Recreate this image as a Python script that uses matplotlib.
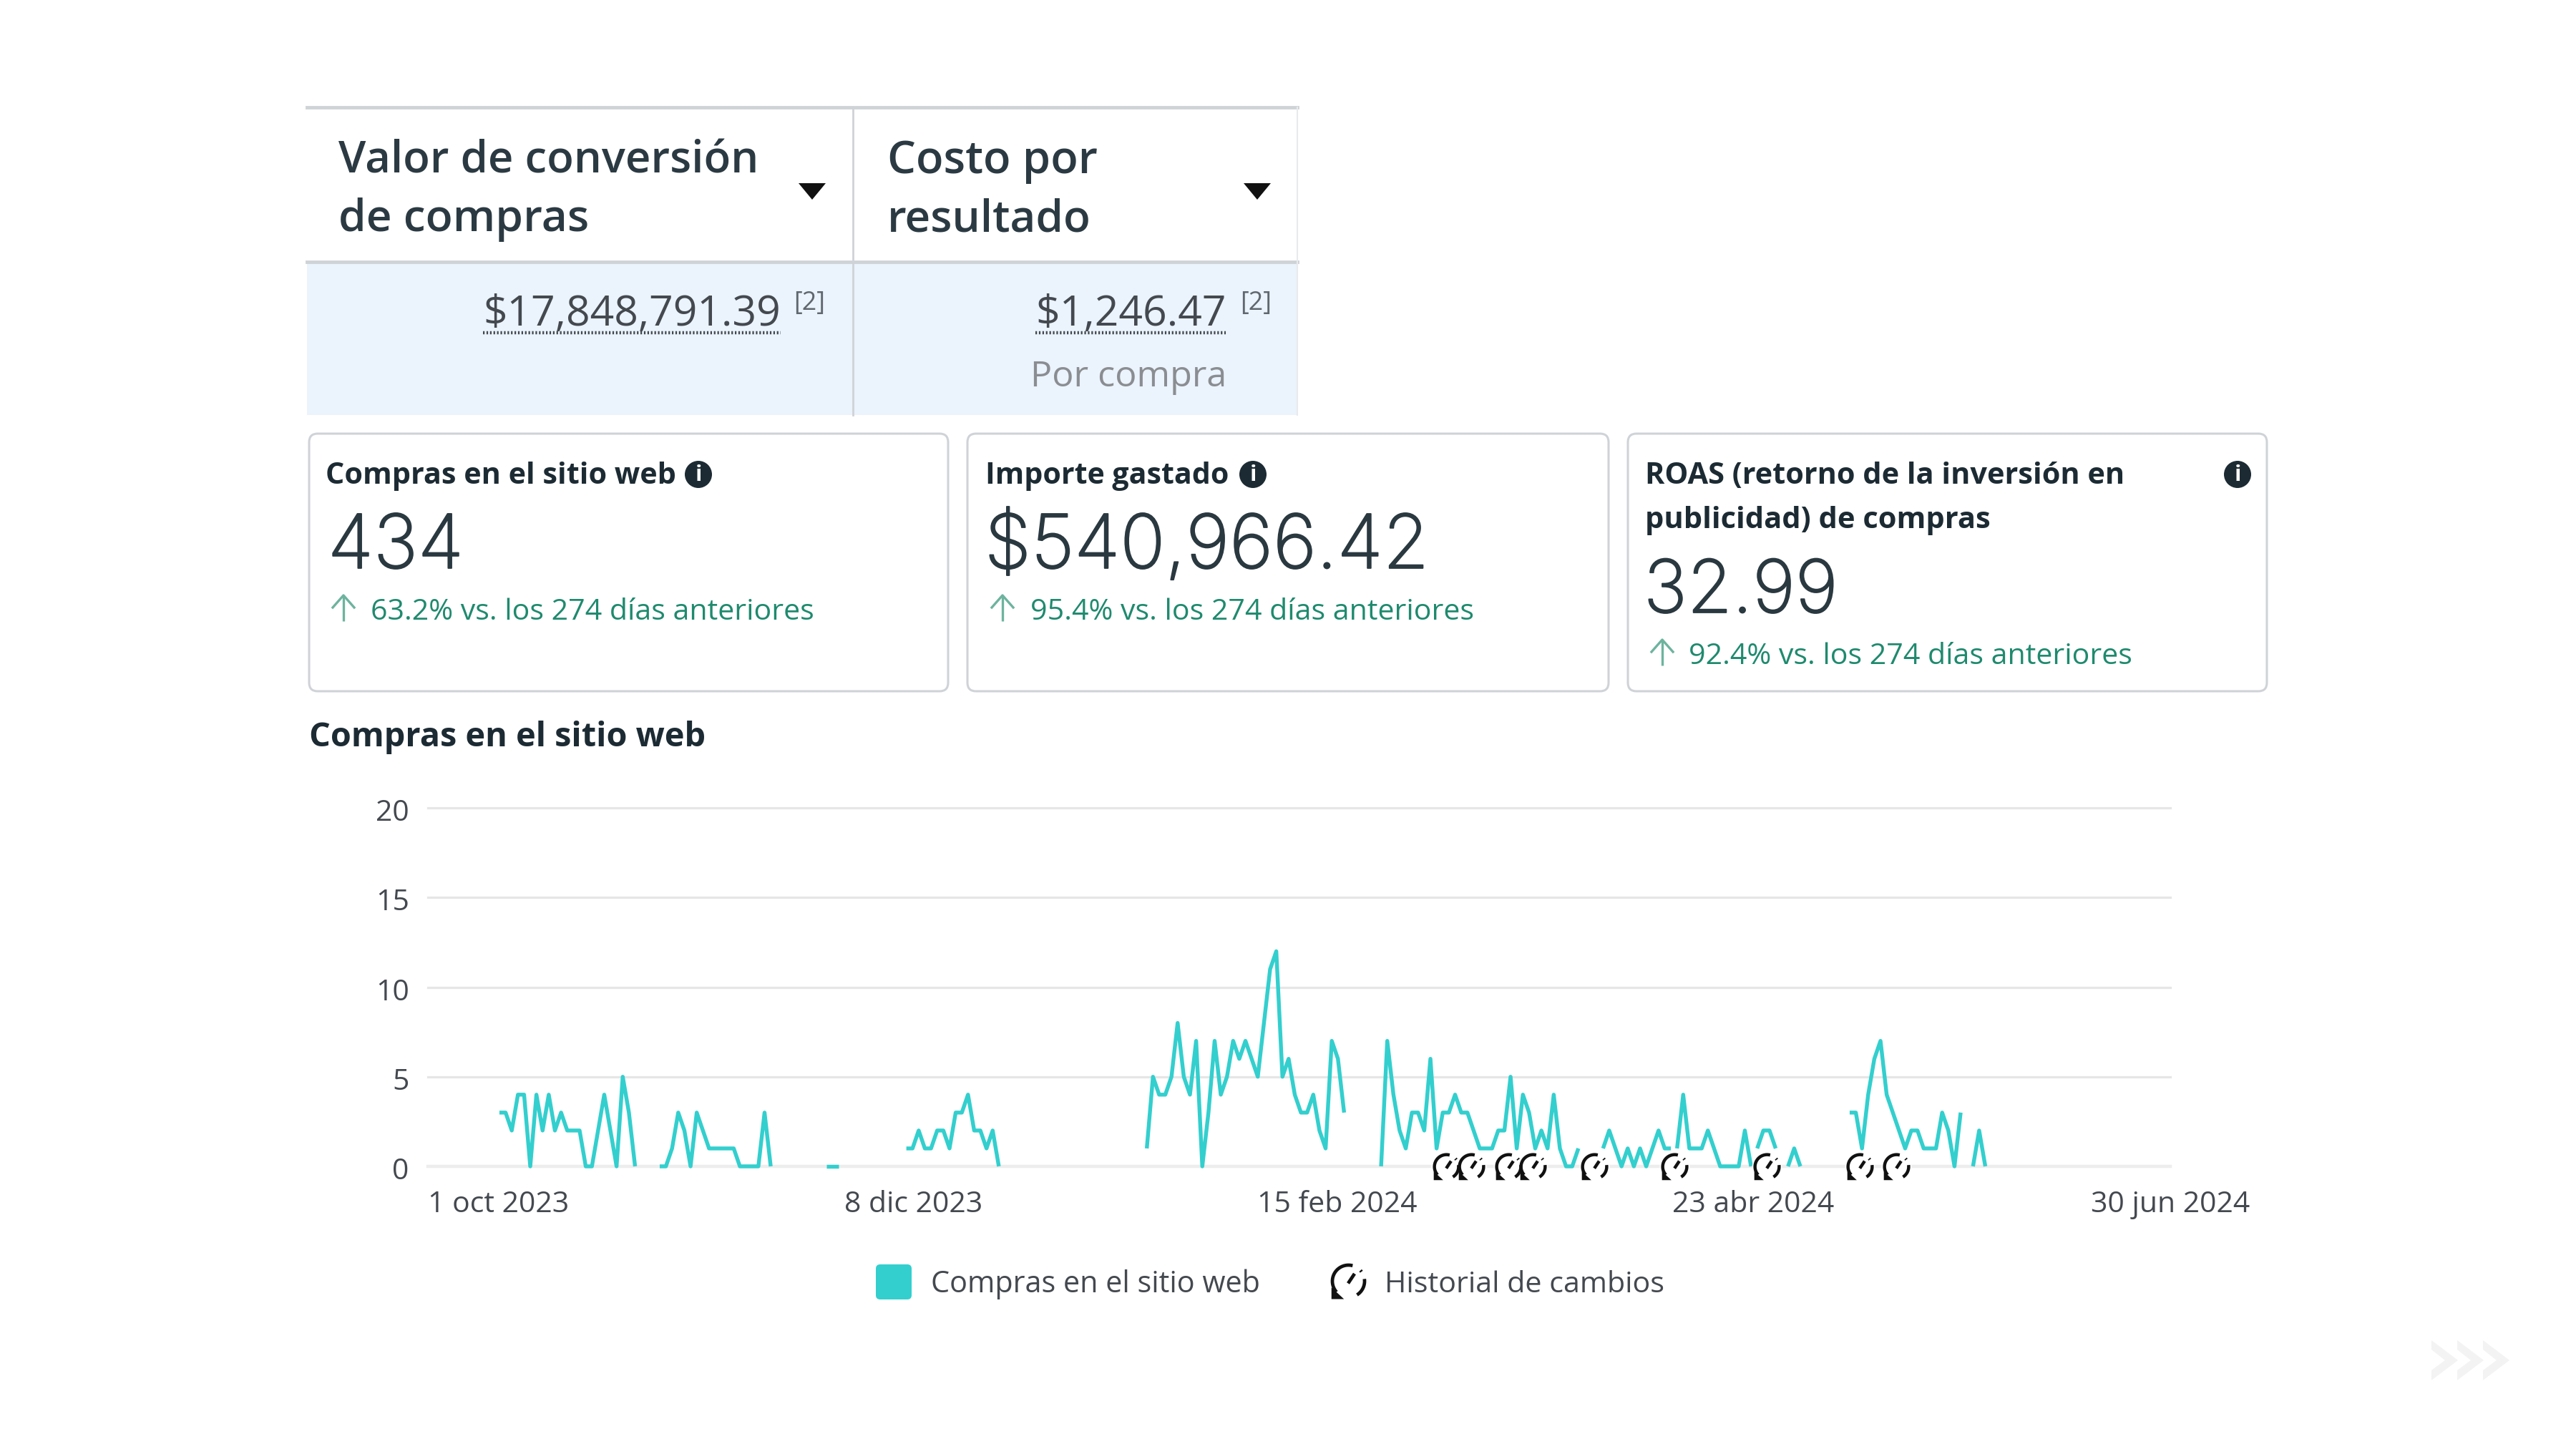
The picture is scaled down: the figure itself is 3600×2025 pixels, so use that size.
import matplotlib
matplotlib.use("Agg")
import matplotlib.pyplot as plt
import matplotlib.patheffects as pe
from matplotlib.patches import Rectangle, FancyBboxPatch, Polygon, Circle
from matplotlib.path import Path
from matplotlib.transforms import ScaledTranslation
import numpy as np

# ---------- data ----------
seg_starts = [0, 26, 53, 66, 105, 143, 179, 191, 204, 209, 219, 239]
seg_0 = [3, 3, 2, 4, 4, 0, 4, 2, 4, 2, 3, 2, 2, 2, 0, 0, 2, 4, 2, 0, 5, 3, 0]
seg_1 = [0, 0, 1, 3, 2, 0, 3, 2, 1, 1, 1, 1, 1, 0, 0, 0, 0, 3, 0]
seg_2 = [0, 0, 0]
seg_3 = [1, 1, 2, 1, 1, 2, 2, 1, 3, 3, 4, 2, 2, 1, 2, 0]
seg_4 = [1, 5, 4, 4, 5, 8, 5, 4, 7, 0, 3, 7, 4, 5, 7, 6, 7, 6, 5, 8, 11, 12, 5, 6, 4, 3, 3, 4, 2, 1, 7, 6, 3]
seg_5 = [0, 7, 4, 2, 1, 3, 3, 2, 6, 1, 3, 3, 4, 3, 3, 2, 1, 1, 1, 2, 2, 5, 1, 4, 3, 1, 2, 1, 4, 1, 0, 0, 1]
seg_6 = [1, 2, 1, 0, 1, 0, 1, 0, 1, 2, 1, 1]
seg_7 = [1, 4, 1, 1, 1, 2, 1, 0, 0, 0, 0, 2, 0]
seg_8 = [1, 2, 2, 1]
seg_9 = [0, 1, 0]
seg_10 = [3, 3, 1, 4, 6, 7, 4, 3, 2, 1, 2, 2, 1, 1, 1, 3, 2, 0, 3]
seg_11 = [0, 2, 0]
segments = [seg_0, seg_1, seg_2, seg_3, seg_4, seg_5, seg_6, seg_7, seg_8, seg_9, seg_10, seg_11]
change_days = [154, 158, 164, 168, 178, 191, 206, 221, 227]
x_ticks = [-0.2, 67.2, 135.9, 203.3, 271]
x_labels = ["1 oct 2023", "8 dic 2023", "15 feb 2024", "23 abr 2024", "30 jun 2024"]
y_ticks = [0, 5, 10, 15, 20]

# ---------- style ----------
FONT = "Open Sans"
NUM_FONT = "Inter"
DARK = "#1C2B33"
TEAL = "#33CFCE"
GREEN = "#1F8A6E"
ARROW = "#6DB39E"
BORDER = "#CFD3D7"
GRID = "#E6E6E6"
NUM_COLOR = "#2A3840"

fig = plt.figure(figsize=(36, 20.25), dpi=100, facecolor="white")
layout = fig.add_axes([0, 0, 1, 1])
layout.set_xlim(0, 3600)
layout.set_ylim(2025, 0)
layout.axis("off")
renderer = fig.canvas.get_renderer()


def put(x, y, s, width=None, size=30, color=DARK, weight="normal", family=FONT, ha="left", va="baseline"):
    t = layout.text(x, y, s, fontsize=size, color=color, fontweight=weight, family=family, ha=ha, va=va)
    if width:
        t.set_fontsize(size * width / t.get_window_extent(renderer).width)
    return t


def big(x, y, s, width):
    t = put(x, y, s, width, weight="light", family=NUM_FONT, color=NUM_COLOR)
    t.set_path_effects([pe.withStroke(linewidth=1.3, foreground=NUM_COLOR)])
    return t


# ---------- top table ----------
layout.add_patch(Rectangle((429, 365), 1384, 215, fc="#EBF3FC", ec="none"))
layout.plot([429, 1813], [150, 150], color=BORDER, lw=3.5)
layout.plot([429, 1813], [366, 366], color=BORDER, lw=3.5)
layout.plot([1192, 1192], [150, 580], color=BORDER, lw=2)
layout.plot([1813, 1813], [150, 580], color="#E8EAED", lw=1.5)
put(473, 242, "Valor de conversión", 586, weight="semibold", color="#2B3A42")
put(473, 323, "de compras", 350, weight="semibold", color="#2B3A42")
put(1240, 242, "Costo por", 294, weight="semibold", color="#2B3A42")
put(1240, 323, "resultado", 284, weight="semibold", color="#2B3A42")
for cx in (1135, 1757):
    layout.add_patch(Polygon([(cx - 19, 256), (cx + 19, 256), (cx, 279)], fc="#111111", ec="none"))
put(675, 455, "$17,848,791.39", 416, color="#444950")
layout.plot([675, 1091], [465, 465], color="#444950", lw=3.2, ls=(0, (0.5, 0.6)))
put(1109, 433, "[2]", 44, color="#60676E")
put(1447, 455, "$1,246.47", 266, color="#444950")
layout.plot([1447, 1713], [465, 465], color="#444950", lw=3.2, ls=(0, (0.5, 0.6)))
put(1733, 433, "[2]", 44, color="#60676E")
put(1440, 540, "Por compra", 275, color="#8A8D91")

# ---------- metric cards ----------
for x0, x1 in ((432, 1325), (1352, 2248), (2275, 3168)):
    layout.add_patch(FancyBboxPatch((x0 + 10, 616), x1 - x0 - 20, 340, boxstyle="round,pad=10,rounding_size=12",
                                    fc="white", ec=BORDER, lw=2.2))


def info(cx, cy):
    layout.add_patch(Circle((cx, cy), 19, fc=DARK, ec="none"))
    layout.text(cx, cy + 1, "i", color="white", fontsize=22, fontweight="bold", family=FONT, ha="center", va="center")


def up(x, top, bot):
    layout.plot([x, x], [top, bot], color=ARROW, lw=2.4, solid_capstyle="butt")
    layout.plot([x - 15, x, x + 15], [top + 17, top, top + 17], color=ARROW, lw=2.4)


put(455, 676, "Compras en el sitio web", 490, weight="bold", color="#1C2B33")
info(976, 663)
big(458, 794, "434", 190)
up(480, 832, 868)
put(518, 866, "63.2% vs. los 274 días anteriores", 620, color=GREEN)

put(1377, 676, "Importe gastado", 340, weight="bold", color="#1C2B33")
info(1751, 663)
big(1376, 794, "$540,966.42", 622)
up(1401, 832, 868)
put(1440, 866, "95.4% vs. los 274 días anteriores", 620, color=GREEN)

put(2299, 676, "ROAS (retorno de la inversión en", 670, weight="bold", color="#1C2B33")
put(2299, 738, "publicidad) de compras", 482, weight="bold", color="#1C2B33")
info(3127, 663)
big(2297, 856, "32.99", 272)
up(2323, 894, 930)
put(2360, 928, "92.4% vs. los 274 días anteriores", 620, color=GREEN)

put(432, 1043, "Compras en el sitio web", 555, weight="bold", color="#1C2B33")

# ---------- chart ----------
AX_L, AX_R, AX_T, AX_B = 598, 3033, 1129, 1630
DAY0, PX_DAY = 698, 8.62
ax = fig.add_axes([AX_L / 3600, 1 - AX_B / 2025, (AX_R - AX_L) / 3600, (AX_B - AX_T) / 2025])
ax.patch.set_alpha(0)
ax.set_xlim(-(DAY0 - AX_L) / PX_DAY, (AX_R - DAY0) / PX_DAY)
ax.set_ylim(0, 20)
for s in ax.spines.values():
    s.set_visible(False)
ax.set_yticks(y_ticks)
ax.set_xticks(x_ticks)
ax.set_xticklabels(x_labels)
ax.tick_params(length=0, labelsize=29.5, colors="#444950", labelfontfamily=FONT)
ax.tick_params(axis="y", pad=19)
ax.tick_params(axis="x", pad=24)
for lab in ax.get_yticklabels():
    lab.set_transform(lab.get_transform() + ScaledTranslation(0, -3 / 100, fig.dpi_scale_trans))
for v in y_ticks:
    ax.axhline(v, color="#EDEDED" if v == 0 else GRID, lw=3.2 if v == 0 else 2.3, zorder=1, clip_on=False)
for start, vals in zip(seg_starts, segments):
    xs = np.arange(start, start + len(vals))
    ax.plot(xs, vals, color=TEAL, lw=3.9, solid_joinstyle="round", solid_capstyle="butt", zorder=2, clip_on=False)


def arc_pts(a0, a1, r=0.9, n=24):
    t = np.radians(np.linspace(a0, a1, n))
    return np.c_[r * np.cos(t), r * np.sin(t)]


def stroke_path(pts_list):
    v, c = [], []
    for pts in pts_list:
        v.extend(map(tuple, pts))
        c.extend([Path.MOVETO] + [Path.LINETO] * (len(pts) - 1))
    v += [(1, 1), (-1, -1)]
    c += [Path.MOVETO, Path.MOVETO]
    return Path(v, c)


ICON_STROKE = stroke_path([
    arc_pts(75, 222),
    arc_pts(42, 36),
    arc_pts(8, -58),
    np.array([[-0.02, -0.12], [0.34, 0.42]]),
])
ICON_HEAD = Path([(-0.95, -0.35), (-0.25, -1.0), (-0.95, -1.0), (-0.95, -0.35), (1, 1), (-1, -1)],
                 [Path.MOVETO, Path.LINETO, Path.LINETO, Path.CLOSEPOLY, Path.MOVETO, Path.MOVETO])


def draw_icons(target, xs, ys, ms, lw):
    target.plot(xs, ys, ls="none", marker=ICON_HEAD, ms=ms, mfc="#111111", mec="none", zorder=5, clip_on=False)
    target.plot(xs, ys, ls="none", marker=ICON_STROKE, ms=ms, mfc="none", mec="#111111", mew=lw, zorder=5, clip_on=False)


icon_x = np.array(change_days) - 0.4
ax.plot(icon_x, np.zeros(len(icon_x)), ls="none", marker="o", ms=30, mfc="white", mec="none", zorder=4, clip_on=False)
draw_icons(ax, icon_x, np.zeros(len(icon_x)), 27, 3.2)

# ---------- legend ----------
layout.add_patch(FancyBboxPatch((1230, 1773), 38, 37, boxstyle="round,pad=6,rounding_size=6", fc=TEAL, ec="none"))
put(1301, 1806, "Compras en el sitio web", 462, color="#444950")
draw_icons(layout, [1884], [1790], 36, 3.4)
put(1935, 1806, "Historial de cambios", 392, color="#444950")
layout.set_xlim(0, 3600)
layout.set_ylim(2025, 0)

# ---------- watermark ----------
for k in range(3):
    dx = 36 * k
    layout.add_patch(Polygon([(3398 + dx, 1873), (3435 + dx, 1901), (3398 + dx, 1929), (3398 + dx, 1915),
                              (3417 + dx, 1901), (3398 + dx, 1886)], fc="#F3F3F3", ec="none"))

fig.savefig("out.png", dpi=100, facecolor="white")
